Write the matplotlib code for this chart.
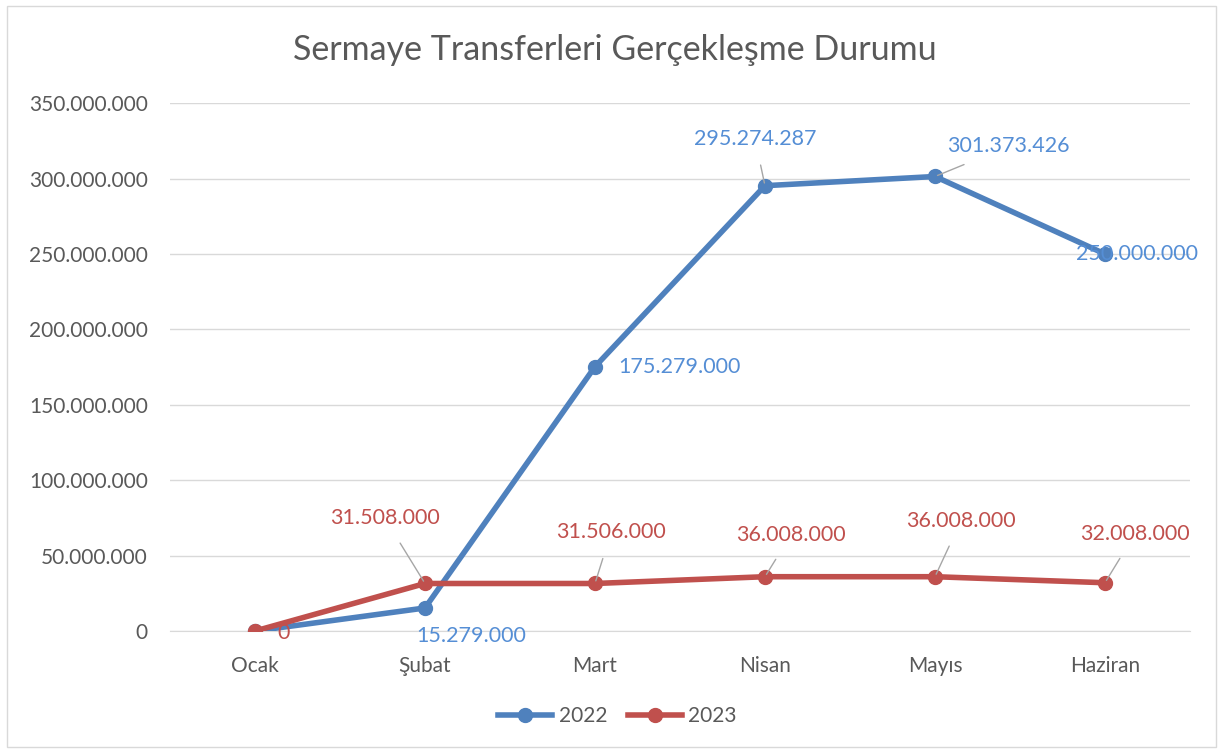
import matplotlib.pyplot as plt
from matplotlib.patches import Rectangle
from matplotlib.ticker import FuncFormatter

plt.rcParams['font.family'] = ['Lato', 'DejaVu Sans']

months = ["Ocak", "Şubat", "Mart", "Nisan", "Mayıs", "Haziran"]
values_2022 = [0, 15279000, 175279000, 295274287, 301373426, 250000000]
values_2023 = [0, 31508000, 31506000, 36008000, 36008000, 32008000]

BLUE = "#4F81BD"
RED = "#C0504D"
BLUE_TXT = "#558ED5"
GRAY = "#595959"


def tr_fmt(v):
    return "{:,.0f}".format(v).replace(",", ".")


# label offsets in pixels, (dx, dy, draw leader line)
offsets_2022 = [None, (46, -28, False), (84, 0, False), (-10, 47, True), (73, 30, True), (32, 0, False)]
offsets_2023 = [(29, -2, False), (-40, 65, True), (16, 51, True), (26, 42, True), (26, 56, True), (30, 49, True)]

fig = plt.figure(figsize=(12.23, 7.53), dpi=100)
ax = fig.add_axes([0.139, 0.162, 0.834, 0.701])

x = range(len(months))
ax.plot(x, values_2022, color=BLUE, lw=4, marker="o", ms=10, label="2022", zorder=3)
ax.plot(x, values_2023, color=RED, lw=4, marker="o", ms=10, label="2023", zorder=3)


def add_labels(vals, offs, color):
    for i, (v, off) in enumerate(zip(vals, offs)):
        if off is None:
            continue
        dx, dy, leader = off
        props = None
        if leader:
            props = dict(arrowstyle="-", color="#A6A6A6", lw=1, shrinkA=10, shrinkB=2)
        ax.annotate(tr_fmt(v), (i, v), xytext=(dx, dy), textcoords="offset pixels",
                    ha="center", va="center", fontsize=15.5, color=color,
                    arrowprops=props, zorder=4)


add_labels(values_2022, offsets_2022, BLUE_TXT)
add_labels(values_2023, offsets_2023, RED)

ax.set_xlim(-0.5, 5.5)
ax.set_ylim(0, 350000000)
ax.set_yticks(range(0, 350000001, 50000000))
ax.yaxis.set_major_formatter(FuncFormatter(lambda v, p: tr_fmt(v)))
ax.set_xticks(list(x))
ax.set_xticklabels(months)
ax.grid(axis="y", color="#D9D9D9", lw=1)
ax.set_axisbelow(True)
for s in ["top", "right", "left"]:
    ax.spines[s].set_visible(False)
ax.spines["bottom"].set_color("#D9D9D9")
ax.tick_params(axis="both", length=0, labelsize=15, labelcolor=GRAY)
ax.tick_params(axis="y", pad=16)
ax.tick_params(axis="x", pad=18)

fig.text(0.503, 0.934, "Sermaye Transferleri Gerçekleşme Durumu", ha="center", va="center",
         fontsize=24.5, color=GRAY)

fig.legend(loc="center", bbox_to_anchor=(0.505, 0.049), ncol=2, frameon=False,
           fontsize=15, handlelength=2.6, columnspacing=1.0, handletextpad=0.3,
           labelcolor=GRAY)

fig.patches.append(Rectangle((0.006, 0.008), 0.988, 0.984, transform=fig.transFigure,
                             fill=False, edgecolor="#D9D9D9", lw=1))

fig.savefig("out.png", dpi=100)
